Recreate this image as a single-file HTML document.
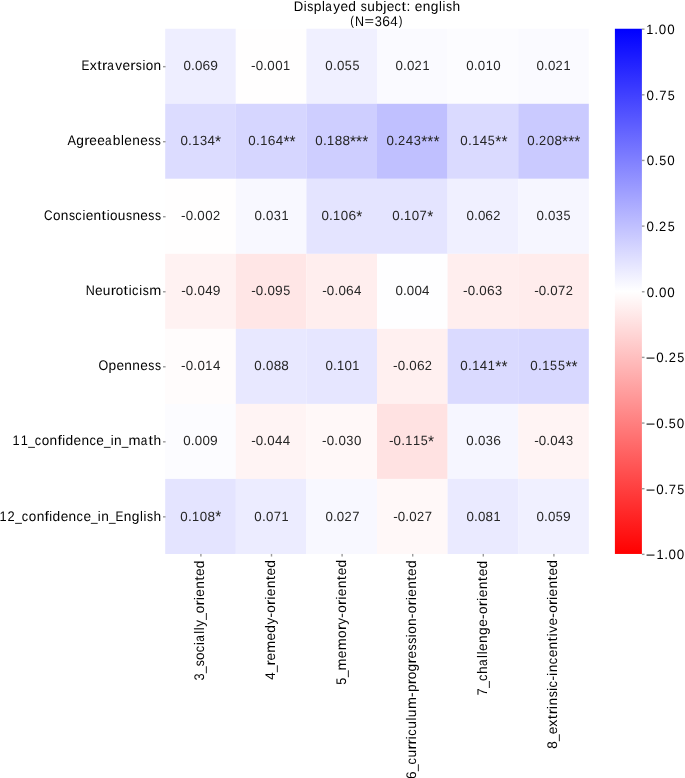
<!DOCTYPE html><html><head><meta charset="utf-8"><style>html,body{margin:0;padding:0;background:#fff;overflow:hidden}svg{display:block;will-change:transform}g text,text{font-family:"Liberation Sans",sans-serif;text-rendering:geometricPrecision}svg{font-size:13.9px}</style></head><body>
<svg width="685" height="778" viewBox="0 0 685 778">
<defs><linearGradient id="cb" x1="0" y1="0" x2="0" y2="1"><stop offset="0" stop-color="#0000ff"/><stop offset="0.5" stop-color="#ffffff"/><stop offset="1" stop-color="#ff0000"/></linearGradient></defs>
<rect width="685" height="778" fill="#fff"/>
<rect x="165.2" y="28.75" width="70.63" height="75.06" fill="#eeeeff"/><rect x="235.8" y="28.75" width="70.63" height="75.06" fill="#fffefe"/><rect x="306.4" y="28.75" width="70.63" height="75.06" fill="#f0f0ff"/><rect x="377" y="28.75" width="70.63" height="75.06" fill="#fafaff"/><rect x="447.6" y="28.75" width="70.63" height="75.06" fill="#fcfcff"/><rect x="518.2" y="28.75" width="70.63" height="75.06" fill="#fafaff"/><rect x="165.2" y="103.78" width="70.63" height="75.06" fill="#dcdcff"/><rect x="235.8" y="103.78" width="70.63" height="75.06" fill="#d6d6ff"/><rect x="306.4" y="103.78" width="70.63" height="75.06" fill="#ceceff"/><rect x="377" y="103.78" width="70.63" height="75.06" fill="#c0c0ff"/><rect x="447.6" y="103.78" width="70.63" height="75.06" fill="#dadaff"/><rect x="518.2" y="103.78" width="70.63" height="75.06" fill="#cacaff"/><rect x="165.2" y="178.81" width="70.63" height="75.06" fill="#fffefe"/><rect x="235.8" y="178.81" width="70.63" height="75.06" fill="#f8f8ff"/><rect x="306.4" y="178.81" width="70.63" height="75.06" fill="#e4e4ff"/><rect x="377" y="178.81" width="70.63" height="75.06" fill="#e4e4ff"/><rect x="447.6" y="178.81" width="70.63" height="75.06" fill="#f0f0ff"/><rect x="518.2" y="178.81" width="70.63" height="75.06" fill="#f6f6ff"/><rect x="165.2" y="253.84" width="70.63" height="75.06" fill="#fff2f2"/><rect x="235.8" y="253.84" width="70.63" height="75.06" fill="#ffe6e6"/><rect x="306.4" y="253.84" width="70.63" height="75.06" fill="#ffeeee"/><rect x="377" y="253.84" width="70.63" height="75.06" fill="#fefeff"/><rect x="447.6" y="253.84" width="70.63" height="75.06" fill="#ffeeee"/><rect x="518.2" y="253.84" width="70.63" height="75.06" fill="#ffecec"/><rect x="165.2" y="328.86" width="70.63" height="75.06" fill="#fffcfc"/><rect x="235.8" y="328.86" width="70.63" height="75.06" fill="#e8e8ff"/><rect x="306.4" y="328.86" width="70.63" height="75.06" fill="#e6e6ff"/><rect x="377" y="328.86" width="70.63" height="75.06" fill="#fff0f0"/><rect x="447.6" y="328.86" width="70.63" height="75.06" fill="#dadaff"/><rect x="518.2" y="328.86" width="70.63" height="75.06" fill="#d8d8ff"/><rect x="165.2" y="403.89" width="70.63" height="75.06" fill="#fcfcff"/><rect x="235.8" y="403.89" width="70.63" height="75.06" fill="#fff4f4"/><rect x="306.4" y="403.89" width="70.63" height="75.06" fill="#fff8f8"/><rect x="377" y="403.89" width="70.63" height="75.06" fill="#ffe2e2"/><rect x="447.6" y="403.89" width="70.63" height="75.06" fill="#f6f6ff"/><rect x="518.2" y="403.89" width="70.63" height="75.06" fill="#fff4f4"/><rect x="165.2" y="478.92" width="70.63" height="75.06" fill="#e4e4ff"/><rect x="235.8" y="478.92" width="70.63" height="75.06" fill="#ececff"/><rect x="306.4" y="478.92" width="70.63" height="75.06" fill="#f8f8ff"/><rect x="377" y="478.92" width="70.63" height="75.06" fill="#fff8f8"/><rect x="447.6" y="478.92" width="70.63" height="75.06" fill="#eaeaff"/><rect x="518.2" y="478.92" width="70.63" height="75.06" fill="#f0f0ff"/>
<rect x="614.9" y="28.75" width="27" height="525.2" fill="url(#cb)"/>
<g fill="#9a9a9a"><rect x="163" y="65.96" width="2.6" height="1.4"/><rect x="163" y="140.99" width="2.6" height="1.4"/><rect x="163" y="216.02" width="2.6" height="1.4"/><rect x="163" y="291.05" width="2.6" height="1.4"/><rect x="163" y="366.08" width="2.6" height="1.4"/><rect x="163" y="441.11" width="2.6" height="1.4"/><rect x="163" y="516.14" width="2.6" height="1.4"/><rect x="200.2" y="553.95" width="1.4" height="2.6"/><rect x="270.8" y="553.95" width="1.4" height="2.6"/><rect x="341.4" y="553.95" width="1.4" height="2.6"/><rect x="412" y="553.95" width="1.4" height="2.6"/><rect x="482.6" y="553.95" width="1.4" height="2.6"/><rect x="553.2" y="553.95" width="1.4" height="2.6"/><rect x="641.9" y="28.45" width="2.6" height="1.4"/><rect x="641.9" y="94.1" width="2.6" height="1.4"/><rect x="641.9" y="159.75" width="2.6" height="1.4"/><rect x="641.9" y="225.4" width="2.6" height="1.4"/><rect x="641.9" y="291.05" width="2.6" height="1.4"/><rect x="641.9" y="356.7" width="2.6" height="1.4"/><rect x="641.9" y="422.35" width="2.6" height="1.4"/><rect x="641.9" y="488" width="2.6" height="1.4"/><rect x="641.9" y="553.65" width="2.6" height="1.4"/></g>
<text y="69.95" fill="#000"><tspan x="81.58" textLength="7.881" lengthAdjust="spacingAndGlyphs">E</tspan><tspan x="89.74" textLength="7.033" lengthAdjust="spacingAndGlyphs">x</tspan><tspan x="97.25" textLength="4.441" lengthAdjust="spacingAndGlyphs">t</tspan><tspan x="102.12" textLength="5.323" lengthAdjust="spacingAndGlyphs">r</tspan><tspan x="107.36" textLength="6.571" lengthAdjust="spacingAndGlyphs">a</tspan><tspan x="115.3" textLength="6.842" lengthAdjust="spacingAndGlyphs">v</tspan><tspan x="122.59" textLength="7.617" lengthAdjust="spacingAndGlyphs">e</tspan><tspan x="130.38" textLength="5.323" lengthAdjust="spacingAndGlyphs">r</tspan><tspan x="135.82" textLength="6.077" lengthAdjust="spacingAndGlyphs">s</tspan><tspan x="142.39" textLength="2.88" lengthAdjust="spacingAndGlyphs">i</tspan><tspan x="145.73" textLength="7.497" lengthAdjust="spacingAndGlyphs">o</tspan><tspan x="153.59" textLength="7.603" lengthAdjust="spacingAndGlyphs">n</tspan></text>
<text y="145.05" fill="#000"><tspan x="67.55" textLength="8.52" lengthAdjust="spacingAndGlyphs">A</tspan><tspan x="76.29" textLength="7.665" lengthAdjust="spacingAndGlyphs">g</tspan><tspan x="84.34" textLength="5.323" lengthAdjust="spacingAndGlyphs">r</tspan><tspan x="89.31" textLength="7.617" lengthAdjust="spacingAndGlyphs">e</tspan><tspan x="97.13" textLength="7.617" lengthAdjust="spacingAndGlyphs">e</tspan><tspan x="104.97" textLength="6.571" lengthAdjust="spacingAndGlyphs">a</tspan><tspan x="112.87" textLength="7.672" lengthAdjust="spacingAndGlyphs">b</tspan><tspan x="120.97" textLength="2.88" lengthAdjust="spacingAndGlyphs">l</tspan><tspan x="124.31" textLength="7.617" lengthAdjust="spacingAndGlyphs">e</tspan><tspan x="132.25" textLength="7.603" lengthAdjust="spacingAndGlyphs">n</tspan><tspan x="140.17" textLength="7.617" lengthAdjust="spacingAndGlyphs">e</tspan><tspan x="148.21" textLength="6.077" lengthAdjust="spacingAndGlyphs">s</tspan><tspan x="154.83" textLength="6.077" lengthAdjust="spacingAndGlyphs">s</tspan></text>
<text y="220.15" fill="#000"><tspan x="44.05" textLength="8.532" lengthAdjust="spacingAndGlyphs">C</tspan><tspan x="52.91" textLength="7.497" lengthAdjust="spacingAndGlyphs">o</tspan><tspan x="60.76" textLength="7.603" lengthAdjust="spacingAndGlyphs">n</tspan><tspan x="68.88" textLength="6.077" lengthAdjust="spacingAndGlyphs">s</tspan><tspan x="75.27" textLength="6.362" lengthAdjust="spacingAndGlyphs">c</tspan><tspan x="82.39" textLength="2.88" lengthAdjust="spacingAndGlyphs">i</tspan><tspan x="85.7" textLength="7.617" lengthAdjust="spacingAndGlyphs">e</tspan><tspan x="93.6" textLength="7.603" lengthAdjust="spacingAndGlyphs">n</tspan><tspan x="101.59" textLength="4.441" lengthAdjust="spacingAndGlyphs">t</tspan><tspan x="106.65" textLength="2.88" lengthAdjust="spacingAndGlyphs">i</tspan><tspan x="109.98" textLength="7.497" lengthAdjust="spacingAndGlyphs">o</tspan><tspan x="117.77" textLength="7.603" lengthAdjust="spacingAndGlyphs">u</tspan><tspan x="125.94" textLength="6.077" lengthAdjust="spacingAndGlyphs">s</tspan><tspan x="132.42" textLength="7.603" lengthAdjust="spacingAndGlyphs">n</tspan><tspan x="140.31" textLength="7.617" lengthAdjust="spacingAndGlyphs">e</tspan><tspan x="148.32" textLength="6.077" lengthAdjust="spacingAndGlyphs">s</tspan><tspan x="154.9" textLength="6.077" lengthAdjust="spacingAndGlyphs">s</tspan></text>
<text y="295.25" fill="#000"><tspan x="85.63" textLength="9.045" lengthAdjust="spacingAndGlyphs">N</tspan><tspan x="95" textLength="7.617" lengthAdjust="spacingAndGlyphs">e</tspan><tspan x="102.86" textLength="7.603" lengthAdjust="spacingAndGlyphs">u</tspan><tspan x="110.81" textLength="5.323" lengthAdjust="spacingAndGlyphs">r</tspan><tspan x="115.78" textLength="7.497" lengthAdjust="spacingAndGlyphs">o</tspan><tspan x="123.61" textLength="4.441" lengthAdjust="spacingAndGlyphs">t</tspan><tspan x="128.68" textLength="2.88" lengthAdjust="spacingAndGlyphs">i</tspan><tspan x="132.03" textLength="6.362" lengthAdjust="spacingAndGlyphs">c</tspan><tspan x="139.16" textLength="2.88" lengthAdjust="spacingAndGlyphs">i</tspan><tspan x="142.7" textLength="6.077" lengthAdjust="spacingAndGlyphs">s</tspan><tspan x="149.15" textLength="12.035" lengthAdjust="spacingAndGlyphs">m</tspan></text>
<text y="370.35" fill="#000"><tspan x="98.41" textLength="9.75" lengthAdjust="spacingAndGlyphs">O</tspan><tspan x="108.52" textLength="7.672" lengthAdjust="spacingAndGlyphs">p</tspan><tspan x="116.42" textLength="7.617" lengthAdjust="spacingAndGlyphs">e</tspan><tspan x="124.34" textLength="7.603" lengthAdjust="spacingAndGlyphs">n</tspan><tspan x="132.37" textLength="7.603" lengthAdjust="spacingAndGlyphs">n</tspan><tspan x="140.27" textLength="7.617" lengthAdjust="spacingAndGlyphs">e</tspan><tspan x="148.3" textLength="6.077" lengthAdjust="spacingAndGlyphs">s</tspan><tspan x="154.9" textLength="6.077" lengthAdjust="spacingAndGlyphs">s</tspan></text>
<text y="445.45" fill="#000"><tspan x="12.58" textLength="7.1" lengthAdjust="spacingAndGlyphs">1</tspan><tspan x="20.65" textLength="7.1" lengthAdjust="spacingAndGlyphs">1</tspan><tspan x="28.19" textLength="6.571" lengthAdjust="spacingAndGlyphs">_</tspan><tspan x="34.78" textLength="6.362" lengthAdjust="spacingAndGlyphs">c</tspan><tspan x="41.73" textLength="7.497" lengthAdjust="spacingAndGlyphs">o</tspan><tspan x="49.59" textLength="7.603" lengthAdjust="spacingAndGlyphs">n</tspan><tspan x="57.53" textLength="4.441" lengthAdjust="spacingAndGlyphs">f</tspan><tspan x="62.16" textLength="2.88" lengthAdjust="spacingAndGlyphs">i</tspan><tspan x="65.48" textLength="7.665" lengthAdjust="spacingAndGlyphs">d</tspan><tspan x="73.52" textLength="7.617" lengthAdjust="spacingAndGlyphs">e</tspan><tspan x="81.45" textLength="7.603" lengthAdjust="spacingAndGlyphs">n</tspan><tspan x="89.39" textLength="6.362" lengthAdjust="spacingAndGlyphs">c</tspan><tspan x="96.32" textLength="7.617" lengthAdjust="spacingAndGlyphs">e</tspan><tspan x="103.9" textLength="6.571" lengthAdjust="spacingAndGlyphs">_</tspan><tspan x="110.66" textLength="2.88" lengthAdjust="spacingAndGlyphs">i</tspan><tspan x="114.1" textLength="7.603" lengthAdjust="spacingAndGlyphs">n</tspan><tspan x="121.79" textLength="6.571" lengthAdjust="spacingAndGlyphs">_</tspan><tspan x="128.43" textLength="12.035" lengthAdjust="spacingAndGlyphs">m</tspan><tspan x="140.72" textLength="6.571" lengthAdjust="spacingAndGlyphs">a</tspan><tspan x="148.55" textLength="4.441" lengthAdjust="spacingAndGlyphs">t</tspan><tspan x="153.5" textLength="7.656" lengthAdjust="spacingAndGlyphs">h</tspan></text>
<text y="520.55" fill="#000"><tspan x="-0.46" textLength="7.1" lengthAdjust="spacingAndGlyphs">1</tspan><tspan x="7.49" textLength="7.165" lengthAdjust="spacingAndGlyphs">2</tspan><tspan x="15.19" textLength="6.571" lengthAdjust="spacingAndGlyphs">_</tspan><tspan x="21.8" textLength="6.362" lengthAdjust="spacingAndGlyphs">c</tspan><tspan x="28.76" textLength="7.497" lengthAdjust="spacingAndGlyphs">o</tspan><tspan x="36.64" textLength="7.603" lengthAdjust="spacingAndGlyphs">n</tspan><tspan x="44.59" textLength="4.441" lengthAdjust="spacingAndGlyphs">f</tspan><tspan x="49.24" textLength="2.88" lengthAdjust="spacingAndGlyphs">i</tspan><tspan x="52.57" textLength="7.665" lengthAdjust="spacingAndGlyphs">d</tspan><tspan x="60.64" textLength="7.617" lengthAdjust="spacingAndGlyphs">e</tspan><tspan x="68.58" textLength="7.603" lengthAdjust="spacingAndGlyphs">n</tspan><tspan x="76.54" textLength="6.362" lengthAdjust="spacingAndGlyphs">c</tspan><tspan x="83.49" textLength="7.617" lengthAdjust="spacingAndGlyphs">e</tspan><tspan x="91.09" textLength="6.571" lengthAdjust="spacingAndGlyphs">_</tspan><tspan x="97.85" textLength="2.88" lengthAdjust="spacingAndGlyphs">i</tspan><tspan x="101.31" textLength="7.603" lengthAdjust="spacingAndGlyphs">n</tspan><tspan x="109.02" textLength="6.571" lengthAdjust="spacingAndGlyphs">_</tspan><tspan x="115.53" textLength="7.881" lengthAdjust="spacingAndGlyphs">E</tspan><tspan x="123.75" textLength="7.603" lengthAdjust="spacingAndGlyphs">n</tspan><tspan x="131.67" textLength="7.665" lengthAdjust="spacingAndGlyphs">g</tspan><tspan x="139.93" textLength="2.88" lengthAdjust="spacingAndGlyphs">l</tspan><tspan x="143.46" textLength="2.88" lengthAdjust="spacingAndGlyphs">i</tspan><tspan x="147.02" textLength="6.077" lengthAdjust="spacingAndGlyphs">s</tspan><tspan x="153.49" textLength="7.656" lengthAdjust="spacingAndGlyphs">h</tspan></text>
<text transform="translate(204.31 0) rotate(-90)" y="0" fill="#000"><tspan x="-680.51" textLength="7.139" lengthAdjust="spacingAndGlyphs">3</tspan><tspan x="-673.04" textLength="6.571" lengthAdjust="spacingAndGlyphs">_</tspan><tspan x="-666.28" textLength="6.077" lengthAdjust="spacingAndGlyphs">s</tspan><tspan x="-659.91" textLength="7.497" lengthAdjust="spacingAndGlyphs">o</tspan><tspan x="-652.16" textLength="6.362" lengthAdjust="spacingAndGlyphs">c</tspan><tspan x="-645.04" textLength="2.88" lengthAdjust="spacingAndGlyphs">i</tspan><tspan x="-641.7" textLength="6.571" lengthAdjust="spacingAndGlyphs">a</tspan><tspan x="-633.79" textLength="2.88" lengthAdjust="spacingAndGlyphs">l</tspan><tspan x="-630.28" textLength="2.88" lengthAdjust="spacingAndGlyphs">l</tspan><tspan x="-626.75" textLength="6.808" lengthAdjust="spacingAndGlyphs">y</tspan><tspan x="-619.71" textLength="6.571" lengthAdjust="spacingAndGlyphs">_</tspan><tspan x="-613.16" textLength="7.497" lengthAdjust="spacingAndGlyphs">o</tspan><tspan x="-605.44" textLength="5.323" lengthAdjust="spacingAndGlyphs">r</tspan><tspan x="-600.04" textLength="2.88" lengthAdjust="spacingAndGlyphs">i</tspan><tspan x="-596.74" textLength="7.617" lengthAdjust="spacingAndGlyphs">e</tspan><tspan x="-588.84" textLength="7.603" lengthAdjust="spacingAndGlyphs">n</tspan><tspan x="-580.86" textLength="4.441" lengthAdjust="spacingAndGlyphs">t</tspan><tspan x="-576" textLength="7.617" lengthAdjust="spacingAndGlyphs">e</tspan><tspan x="-568.23" textLength="7.665" lengthAdjust="spacingAndGlyphs">d</tspan></text>
<text transform="translate(274.91 0) rotate(-90)" y="0" fill="#000"><tspan x="-679.65" textLength="7.435" lengthAdjust="spacingAndGlyphs">4</tspan><tspan x="-672.02" textLength="6.571" lengthAdjust="spacingAndGlyphs">_</tspan><tspan x="-665.49" textLength="5.323" lengthAdjust="spacingAndGlyphs">r</tspan><tspan x="-660.55" textLength="7.617" lengthAdjust="spacingAndGlyphs">e</tspan><tspan x="-652.71" textLength="12.035" lengthAdjust="spacingAndGlyphs">m</tspan><tspan x="-640.48" textLength="7.617" lengthAdjust="spacingAndGlyphs">e</tspan><tspan x="-632.71" textLength="7.665" lengthAdjust="spacingAndGlyphs">d</tspan><tspan x="-624.46" textLength="6.808" lengthAdjust="spacingAndGlyphs">y</tspan><tspan x="-617.57" textLength="4.552" lengthAdjust="spacingAndGlyphs">-</tspan><tspan x="-612.64" textLength="7.497" lengthAdjust="spacingAndGlyphs">o</tspan><tspan x="-604.93" textLength="5.323" lengthAdjust="spacingAndGlyphs">r</tspan><tspan x="-599.53" textLength="2.88" lengthAdjust="spacingAndGlyphs">i</tspan><tspan x="-596.23" textLength="7.617" lengthAdjust="spacingAndGlyphs">e</tspan><tspan x="-588.33" textLength="7.603" lengthAdjust="spacingAndGlyphs">n</tspan><tspan x="-580.35" textLength="4.441" lengthAdjust="spacingAndGlyphs">t</tspan><tspan x="-575.5" textLength="7.617" lengthAdjust="spacingAndGlyphs">e</tspan><tspan x="-567.73" textLength="7.665" lengthAdjust="spacingAndGlyphs">d</tspan></text>
<text transform="translate(345.51 0) rotate(-90)" y="0" fill="#000"><tspan x="-684.63" textLength="7.016" lengthAdjust="spacingAndGlyphs">5</tspan><tspan x="-677.11" textLength="6.571" lengthAdjust="spacingAndGlyphs">_</tspan><tspan x="-670.44" textLength="12.035" lengthAdjust="spacingAndGlyphs">m</tspan><tspan x="-658.14" textLength="7.617" lengthAdjust="spacingAndGlyphs">e</tspan><tspan x="-650.22" textLength="12.035" lengthAdjust="spacingAndGlyphs">m</tspan><tspan x="-637.9" textLength="7.497" lengthAdjust="spacingAndGlyphs">o</tspan><tspan x="-630.14" textLength="5.323" lengthAdjust="spacingAndGlyphs">r</tspan><tspan x="-624.68" textLength="6.808" lengthAdjust="spacingAndGlyphs">y</tspan><tspan x="-617.75" textLength="4.552" lengthAdjust="spacingAndGlyphs">-</tspan><tspan x="-612.77" textLength="7.497" lengthAdjust="spacingAndGlyphs">o</tspan><tspan x="-605" textLength="5.323" lengthAdjust="spacingAndGlyphs">r</tspan><tspan x="-599.58" textLength="2.88" lengthAdjust="spacingAndGlyphs">i</tspan><tspan x="-596.24" textLength="7.617" lengthAdjust="spacingAndGlyphs">e</tspan><tspan x="-588.29" textLength="7.603" lengthAdjust="spacingAndGlyphs">n</tspan><tspan x="-580.26" textLength="4.441" lengthAdjust="spacingAndGlyphs">t</tspan><tspan x="-575.36" textLength="7.617" lengthAdjust="spacingAndGlyphs">e</tspan><tspan x="-567.53" textLength="7.665" lengthAdjust="spacingAndGlyphs">d</tspan></text>
<text transform="translate(416.11 0) rotate(-90)" y="0" fill="#000"><tspan x="-778.91">6</tspan><tspan x="-771.11" textLength="6.571" lengthAdjust="spacingAndGlyphs">_</tspan><tspan x="-764.51" textLength="6.362" lengthAdjust="spacingAndGlyphs">c</tspan><tspan x="-757.5" textLength="7.603" lengthAdjust="spacingAndGlyphs">u</tspan><tspan x="-749.52" textLength="5.323" lengthAdjust="spacingAndGlyphs">r</tspan><tspan x="-744.56" textLength="5.323" lengthAdjust="spacingAndGlyphs">r</tspan><tspan x="-739.14" textLength="2.88" lengthAdjust="spacingAndGlyphs">i</tspan><tspan x="-735.77" textLength="6.362" lengthAdjust="spacingAndGlyphs">c</tspan><tspan x="-728.76" textLength="7.603" lengthAdjust="spacingAndGlyphs">u</tspan><tspan x="-720.59" textLength="2.88" lengthAdjust="spacingAndGlyphs">l</tspan><tspan x="-717.19" textLength="7.603" lengthAdjust="spacingAndGlyphs">u</tspan><tspan x="-709.13" textLength="12.035" lengthAdjust="spacingAndGlyphs">m</tspan><tspan x="-696.96" textLength="4.552" lengthAdjust="spacingAndGlyphs">-</tspan><tspan x="-692.12" textLength="7.672" lengthAdjust="spacingAndGlyphs">p</tspan><tspan x="-684.21" textLength="5.323" lengthAdjust="spacingAndGlyphs">r</tspan><tspan x="-679.23" textLength="7.497" lengthAdjust="spacingAndGlyphs">o</tspan><tspan x="-671.47" textLength="7.665" lengthAdjust="spacingAndGlyphs">g</tspan><tspan x="-663.42" textLength="5.323" lengthAdjust="spacingAndGlyphs">r</tspan><tspan x="-658.45" textLength="7.617" lengthAdjust="spacingAndGlyphs">e</tspan><tspan x="-650.41" textLength="6.077" lengthAdjust="spacingAndGlyphs">s</tspan><tspan x="-643.8" textLength="6.077" lengthAdjust="spacingAndGlyphs">s</tspan><tspan x="-637.22" textLength="2.88" lengthAdjust="spacingAndGlyphs">i</tspan><tspan x="-633.87" textLength="7.497" lengthAdjust="spacingAndGlyphs">o</tspan><tspan x="-625.99" textLength="7.603" lengthAdjust="spacingAndGlyphs">n</tspan><tspan x="-618.19" textLength="4.552" lengthAdjust="spacingAndGlyphs">-</tspan><tspan x="-613.23" textLength="7.497" lengthAdjust="spacingAndGlyphs">o</tspan><tspan x="-605.48" textLength="5.323" lengthAdjust="spacingAndGlyphs">r</tspan><tspan x="-600.06" textLength="2.88" lengthAdjust="spacingAndGlyphs">i</tspan><tspan x="-596.73" textLength="7.617" lengthAdjust="spacingAndGlyphs">e</tspan><tspan x="-588.8" textLength="7.603" lengthAdjust="spacingAndGlyphs">n</tspan><tspan x="-580.78" textLength="4.441" lengthAdjust="spacingAndGlyphs">t</tspan><tspan x="-575.9" textLength="7.617" lengthAdjust="spacingAndGlyphs">e</tspan><tspan x="-568.09" textLength="7.665" lengthAdjust="spacingAndGlyphs">d</tspan></text>
<text transform="translate(486.71 0) rotate(-90)" y="0" fill="#000"><tspan x="-695.41" textLength="7.272" lengthAdjust="spacingAndGlyphs">7</tspan><tspan x="-687.72" textLength="6.571" lengthAdjust="spacingAndGlyphs">_</tspan><tspan x="-681.06" textLength="6.362" lengthAdjust="spacingAndGlyphs">c</tspan><tspan x="-673.96" textLength="7.656" lengthAdjust="spacingAndGlyphs">h</tspan><tspan x="-665.88" textLength="6.571" lengthAdjust="spacingAndGlyphs">a</tspan><tspan x="-657.89" textLength="2.88" lengthAdjust="spacingAndGlyphs">l</tspan><tspan x="-654.32" textLength="2.88" lengthAdjust="spacingAndGlyphs">l</tspan><tspan x="-650.93" textLength="7.617" lengthAdjust="spacingAndGlyphs">e</tspan><tspan x="-642.91" textLength="7.603" lengthAdjust="spacingAndGlyphs">n</tspan><tspan x="-634.91" textLength="7.665" lengthAdjust="spacingAndGlyphs">g</tspan><tspan x="-626.78" textLength="7.617" lengthAdjust="spacingAndGlyphs">e</tspan><tspan x="-619.02" textLength="4.552" lengthAdjust="spacingAndGlyphs">-</tspan><tspan x="-613.99" textLength="7.497" lengthAdjust="spacingAndGlyphs">o</tspan><tspan x="-606.17" textLength="5.323" lengthAdjust="spacingAndGlyphs">r</tspan><tspan x="-600.71" textLength="2.88" lengthAdjust="spacingAndGlyphs">i</tspan><tspan x="-597.33" textLength="7.617" lengthAdjust="spacingAndGlyphs">e</tspan><tspan x="-589.31" textLength="7.603" lengthAdjust="spacingAndGlyphs">n</tspan><tspan x="-581.23" textLength="4.441" lengthAdjust="spacingAndGlyphs">t</tspan><tspan x="-576.28" textLength="7.617" lengthAdjust="spacingAndGlyphs">e</tspan><tspan x="-568.39" textLength="7.665" lengthAdjust="spacingAndGlyphs">d</tspan></text>
<text transform="translate(557.31 0) rotate(-90)" y="0" fill="#000"><tspan x="-748.63" textLength="7.514" lengthAdjust="spacingAndGlyphs">8</tspan><tspan x="-740.93" textLength="6.571" lengthAdjust="spacingAndGlyphs">_</tspan><tspan x="-734.37" textLength="7.617" lengthAdjust="spacingAndGlyphs">e</tspan><tspan x="-726.73" textLength="7.033" lengthAdjust="spacingAndGlyphs">x</tspan><tspan x="-719.22" textLength="4.441" lengthAdjust="spacingAndGlyphs">t</tspan><tspan x="-714.34" textLength="5.323" lengthAdjust="spacingAndGlyphs">r</tspan><tspan x="-708.93" textLength="2.88" lengthAdjust="spacingAndGlyphs">i</tspan><tspan x="-705.48" textLength="7.603" lengthAdjust="spacingAndGlyphs">n</tspan><tspan x="-697.34" textLength="6.077" lengthAdjust="spacingAndGlyphs">s</tspan><tspan x="-690.76" textLength="2.88" lengthAdjust="spacingAndGlyphs">i</tspan><tspan x="-687.4" textLength="6.362" lengthAdjust="spacingAndGlyphs">c</tspan><tspan x="-680.58" textLength="4.552" lengthAdjust="spacingAndGlyphs">-</tspan><tspan x="-675.69" textLength="2.88" lengthAdjust="spacingAndGlyphs">i</tspan><tspan x="-672.24" textLength="7.603" lengthAdjust="spacingAndGlyphs">n</tspan><tspan x="-664.29" textLength="6.362" lengthAdjust="spacingAndGlyphs">c</tspan><tspan x="-657.35" textLength="7.617" lengthAdjust="spacingAndGlyphs">e</tspan><tspan x="-649.42" textLength="7.603" lengthAdjust="spacingAndGlyphs">n</tspan><tspan x="-641.41" textLength="4.441" lengthAdjust="spacingAndGlyphs">t</tspan><tspan x="-636.34" textLength="2.88" lengthAdjust="spacingAndGlyphs">i</tspan><tspan x="-632.8" textLength="6.842" lengthAdjust="spacingAndGlyphs">v</tspan><tspan x="-625.51" textLength="7.617" lengthAdjust="spacingAndGlyphs">e</tspan><tspan x="-617.82" textLength="4.552" lengthAdjust="spacingAndGlyphs">-</tspan><tspan x="-612.86" textLength="7.497" lengthAdjust="spacingAndGlyphs">o</tspan><tspan x="-605.12" textLength="5.323" lengthAdjust="spacingAndGlyphs">r</tspan><tspan x="-599.7" textLength="2.88" lengthAdjust="spacingAndGlyphs">i</tspan><tspan x="-596.38" textLength="7.617" lengthAdjust="spacingAndGlyphs">e</tspan><tspan x="-588.45" textLength="7.603" lengthAdjust="spacingAndGlyphs">n</tspan><tspan x="-580.44" textLength="4.441" lengthAdjust="spacingAndGlyphs">t</tspan><tspan x="-575.56" textLength="7.617" lengthAdjust="spacingAndGlyphs">e</tspan><tspan x="-567.76" textLength="7.665" lengthAdjust="spacingAndGlyphs">d</tspan></text>
<text y="10.7" fill="#000"><tspan x="293.83" textLength="9.474" lengthAdjust="spacingAndGlyphs">D</tspan><tspan x="303.74" textLength="2.88" lengthAdjust="spacingAndGlyphs">i</tspan><tspan x="307.3" textLength="6.077" lengthAdjust="spacingAndGlyphs">s</tspan><tspan x="313.83" textLength="7.672" lengthAdjust="spacingAndGlyphs">p</tspan><tspan x="321.94" textLength="2.88" lengthAdjust="spacingAndGlyphs">l</tspan><tspan x="325.31" textLength="6.571" lengthAdjust="spacingAndGlyphs">a</tspan><tspan x="333.28" textLength="6.808" lengthAdjust="spacingAndGlyphs">y</tspan><tspan x="340.56" textLength="7.617" lengthAdjust="spacingAndGlyphs">e</tspan><tspan x="348.37" textLength="7.665" lengthAdjust="spacingAndGlyphs">d</tspan> <tspan x="360.69" textLength="6.077" lengthAdjust="spacingAndGlyphs">s</tspan><tspan x="367.15" textLength="7.603" lengthAdjust="spacingAndGlyphs">u</tspan><tspan x="375.27" textLength="7.672" lengthAdjust="spacingAndGlyphs">b</tspan><tspan x="383.17" textLength="3.178" lengthAdjust="spacingAndGlyphs">j</tspan><tspan x="386.71" textLength="7.617" lengthAdjust="spacingAndGlyphs">e</tspan><tspan x="394.56" textLength="6.362" lengthAdjust="spacingAndGlyphs">c</tspan><tspan x="401.59" textLength="4.441" lengthAdjust="spacingAndGlyphs">t</tspan><tspan x="406.58" textLength="3.812" lengthAdjust="spacingAndGlyphs">:</tspan> <tspan x="414.78" textLength="7.617" lengthAdjust="spacingAndGlyphs">e</tspan><tspan x="422.72" textLength="7.603" lengthAdjust="spacingAndGlyphs">n</tspan><tspan x="430.64" textLength="7.665" lengthAdjust="spacingAndGlyphs">g</tspan><tspan x="438.89" textLength="2.88" lengthAdjust="spacingAndGlyphs">l</tspan><tspan x="442.42" textLength="2.88" lengthAdjust="spacingAndGlyphs">i</tspan><tspan x="445.98" textLength="6.077" lengthAdjust="spacingAndGlyphs">s</tspan><tspan x="452.44" textLength="7.656" lengthAdjust="spacingAndGlyphs">h</tspan></text>
<text y="25.65" fill="#000"><tspan x="350.36" y="24.77" textLength="3.703" lengthAdjust="spacingAndGlyphs" font-size="12.728">(</tspan><tspan x="354.98" y="25.65" textLength="9.045" lengthAdjust="spacingAndGlyphs">N</tspan><tspan x="364.52" y="25.32" textLength="9.541" lengthAdjust="spacingAndGlyphs" font-size="11.66">=</tspan><tspan x="374.82" y="25.65" textLength="7.139" lengthAdjust="spacingAndGlyphs">3</tspan><tspan x="382.37" y="25.65">6</tspan><tspan x="390.34" y="25.65" textLength="7.435" lengthAdjust="spacingAndGlyphs">4</tspan><tspan x="398.81" y="24.77" textLength="3.703" lengthAdjust="spacingAndGlyphs" font-size="12.728">)</tspan></text>
<text y="559.25" fill="#000" font-size="13.5"><tspan x="645.69" y="560.18" textLength="9.541" lengthAdjust="spacingAndGlyphs" font-size="14.764">−</tspan><tspan x="656.39" y="559.25" textLength="7.1" lengthAdjust="spacingAndGlyphs">1</tspan><tspan x="664.24" y="559.25" textLength="3.812" lengthAdjust="spacingAndGlyphs">.</tspan><tspan x="668.62" y="559.25" textLength="7.434" lengthAdjust="spacingAndGlyphs">0</tspan><tspan x="676.85" y="559.25" textLength="7.434" lengthAdjust="spacingAndGlyphs">0</tspan></text>
<text y="493.6" fill="#000" font-size="13.5"><tspan x="645.66" y="494.53" textLength="9.541" lengthAdjust="spacingAndGlyphs" font-size="14.764">−</tspan><tspan x="656.32" y="493.6" textLength="7.434" lengthAdjust="spacingAndGlyphs">0</tspan><tspan x="664.33" y="493.6" textLength="3.812" lengthAdjust="spacingAndGlyphs">.</tspan><tspan x="668.8" y="493.6" textLength="7.272" lengthAdjust="spacingAndGlyphs">7</tspan><tspan x="677.19" y="493.6" textLength="7.016" lengthAdjust="spacingAndGlyphs">5</tspan></text>
<text y="427.95" fill="#000" font-size="13.5"><tspan x="645.74" y="428.88" textLength="9.541" lengthAdjust="spacingAndGlyphs" font-size="14.764">−</tspan><tspan x="656.29" y="427.95" textLength="7.434" lengthAdjust="spacingAndGlyphs">0</tspan><tspan x="664.23" y="427.95" textLength="3.812" lengthAdjust="spacingAndGlyphs">.</tspan><tspan x="668.74" y="427.95" textLength="7.016" lengthAdjust="spacingAndGlyphs">5</tspan><tspan x="676.78" y="427.95" textLength="7.434" lengthAdjust="spacingAndGlyphs">0</tspan></text>
<text y="362.3" fill="#000" font-size="13.5"><tspan x="645.65" y="363.23" textLength="9.541" lengthAdjust="spacingAndGlyphs" font-size="14.764">−</tspan><tspan x="656.31" y="362.3" textLength="7.434" lengthAdjust="spacingAndGlyphs">0</tspan><tspan x="664.34" y="362.3" textLength="3.812" lengthAdjust="spacingAndGlyphs">.</tspan><tspan x="668.72" y="362.3" textLength="7.165" lengthAdjust="spacingAndGlyphs">2</tspan><tspan x="677.22" y="362.3" textLength="7.016" lengthAdjust="spacingAndGlyphs">5</tspan></text>
<text y="296.65" fill="#000" font-size="13.5"><tspan x="646.69" textLength="7.434" lengthAdjust="spacingAndGlyphs">0</tspan><tspan x="654.63" textLength="3.812" lengthAdjust="spacingAndGlyphs">.</tspan><tspan x="658.97" textLength="7.434" lengthAdjust="spacingAndGlyphs">0</tspan><tspan x="667.15" textLength="7.434" lengthAdjust="spacingAndGlyphs">0</tspan></text>
<text y="231" fill="#000" font-size="13.5"><tspan x="646.58" textLength="7.434" lengthAdjust="spacingAndGlyphs">0</tspan><tspan x="654.65" textLength="3.812" lengthAdjust="spacingAndGlyphs">.</tspan><tspan x="659.08" textLength="7.165" lengthAdjust="spacingAndGlyphs">2</tspan><tspan x="667.64" textLength="7.016" lengthAdjust="spacingAndGlyphs">5</tspan></text>
<text y="165.35" fill="#000" font-size="13.5"><tspan x="646.69" textLength="7.434" lengthAdjust="spacingAndGlyphs">0</tspan><tspan x="654.63" textLength="3.812" lengthAdjust="spacingAndGlyphs">.</tspan><tspan x="659.13" textLength="7.016" lengthAdjust="spacingAndGlyphs">5</tspan><tspan x="667.15" textLength="7.434" lengthAdjust="spacingAndGlyphs">0</tspan></text>
<text y="99.7" fill="#000" font-size="13.5"><tspan x="646.58" textLength="7.434" lengthAdjust="spacingAndGlyphs">0</tspan><tspan x="654.65" textLength="3.812" lengthAdjust="spacingAndGlyphs">.</tspan><tspan x="659.18" textLength="7.272" lengthAdjust="spacingAndGlyphs">7</tspan><tspan x="667.64" textLength="7.016" lengthAdjust="spacingAndGlyphs">5</tspan></text>
<text y="34.05" fill="#000" font-size="13.5"><tspan x="646.3" textLength="7.1" lengthAdjust="spacingAndGlyphs">1</tspan><tspan x="654.28" textLength="3.812" lengthAdjust="spacingAndGlyphs">.</tspan><tspan x="658.78" textLength="7.434" lengthAdjust="spacingAndGlyphs">0</tspan><tspan x="667.18" textLength="7.434" lengthAdjust="spacingAndGlyphs">0</tspan></text>
<text y="69.95" fill="#262626" font-size="13.3"><tspan x="183.45">0</tspan><tspan x="191.02" textLength="3.812" lengthAdjust="spacingAndGlyphs">.</tspan><tspan x="194.98">0</tspan><tspan x="202.54" textLength="7.694" lengthAdjust="spacingAndGlyphs">6</tspan><tspan x="210.21" textLength="7.678" lengthAdjust="spacingAndGlyphs">9</tspan></text>
<text y="69.95" fill="#262626" font-size="13.3"><tspan x="251.02" textLength="4.552" lengthAdjust="spacingAndGlyphs">-</tspan><tspan x="255.69">0</tspan><tspan x="263.33" textLength="3.812" lengthAdjust="spacingAndGlyphs">.</tspan><tspan x="267.37">0</tspan><tspan x="275.17">0</tspan><tspan x="283.06" textLength="7.1" lengthAdjust="spacingAndGlyphs">1</tspan></text>
<text y="69.95" fill="#262626" font-size="13.3"><tspan x="325.37">0</tspan><tspan x="332.94" textLength="3.812" lengthAdjust="spacingAndGlyphs">.</tspan><tspan x="336.91">0</tspan><tspan x="344.77" textLength="7.016" lengthAdjust="spacingAndGlyphs">5</tspan><tspan x="352.46" textLength="7.016" lengthAdjust="spacingAndGlyphs">5</tspan></text>
<text y="69.95" fill="#262626" font-size="13.3"><tspan x="395.43">0</tspan><tspan x="402.99" textLength="3.812" lengthAdjust="spacingAndGlyphs">.</tspan><tspan x="406.95">0</tspan><tspan x="414.6" textLength="7.165" lengthAdjust="spacingAndGlyphs">2</tspan><tspan x="422.41" textLength="7.1" lengthAdjust="spacingAndGlyphs">1</tspan></text>
<text y="69.95" fill="#262626" font-size="13.3"><tspan x="466.3">0</tspan><tspan x="473.87" textLength="3.812" lengthAdjust="spacingAndGlyphs">.</tspan><tspan x="477.85">0</tspan><tspan x="485.65" textLength="7.1" lengthAdjust="spacingAndGlyphs">1</tspan><tspan x="493.24">0</tspan></text>
<text y="69.95" fill="#262626" font-size="13.3"><tspan x="536.43">0</tspan><tspan x="543.99" textLength="3.812" lengthAdjust="spacingAndGlyphs">.</tspan><tspan x="547.94">0</tspan><tspan x="555.59" textLength="7.165" lengthAdjust="spacingAndGlyphs">2</tspan><tspan x="563.39" textLength="7.1" lengthAdjust="spacingAndGlyphs">1</tspan></text>
<text y="145.05" fill="#262626" font-size="13.3"><tspan x="180.4" y="145.05">0</tspan><tspan x="188.01" y="145.05" textLength="3.812" lengthAdjust="spacingAndGlyphs">.</tspan><tspan x="192.13" y="145.05" textLength="7.1" lengthAdjust="spacingAndGlyphs">1</tspan><tspan x="199.94" y="145.05" textLength="7.139" lengthAdjust="spacingAndGlyphs">3</tspan><tspan x="207.53" y="145.05" textLength="7.435" lengthAdjust="spacingAndGlyphs">4</tspan><tspan x="215.12" y="146.97" textLength="6.081" lengthAdjust="spacingAndGlyphs" font-size="16.472">*</tspan></text>
<text y="145.05" fill="#262626" font-size="13.3"><tspan x="248.32" y="145.05">0</tspan><tspan x="255.99" y="145.05" textLength="3.812" lengthAdjust="spacingAndGlyphs">.</tspan><tspan x="260.18" y="145.05" textLength="7.1" lengthAdjust="spacingAndGlyphs">1</tspan><tspan x="267.78" y="145.05" textLength="7.694" lengthAdjust="spacingAndGlyphs">6</tspan><tspan x="275.75" y="145.05" textLength="7.435" lengthAdjust="spacingAndGlyphs">4</tspan><tspan x="283.42" y="146.97" textLength="6.081" lengthAdjust="spacingAndGlyphs" font-size="16.472">*</tspan><tspan x="289.58" y="146.97" textLength="6.081" lengthAdjust="spacingAndGlyphs" font-size="16.472">*</tspan></text>
<text y="145.05" fill="#262626" font-size="13.3"><tspan x="315.37" y="145.05">0</tspan><tspan x="322.97" y="145.05" textLength="3.812" lengthAdjust="spacingAndGlyphs">.</tspan><tspan x="327.07" y="145.05" textLength="7.1" lengthAdjust="spacingAndGlyphs">1</tspan><tspan x="334.66" y="145.05" textLength="7.514" lengthAdjust="spacingAndGlyphs">8</tspan><tspan x="342.4" y="145.05" textLength="7.514" lengthAdjust="spacingAndGlyphs">8</tspan><tspan x="350.02" y="146.97" textLength="6.081" lengthAdjust="spacingAndGlyphs" font-size="16.472">*</tspan><tspan x="356.1" y="146.97" textLength="6.081" lengthAdjust="spacingAndGlyphs" font-size="16.472">*</tspan><tspan x="362.18" y="146.97" textLength="6.081" lengthAdjust="spacingAndGlyphs" font-size="16.472">*</tspan></text>
<text y="145.05" fill="#262626" font-size="13.3"><tspan x="386.39" y="145.05">0</tspan><tspan x="394.01" y="145.05" textLength="3.812" lengthAdjust="spacingAndGlyphs">.</tspan><tspan x="398.01" y="145.05" textLength="7.165" lengthAdjust="spacingAndGlyphs">2</tspan><tspan x="405.8" y="145.05" textLength="7.435" lengthAdjust="spacingAndGlyphs">4</tspan><tspan x="413.73" y="145.05" textLength="7.139" lengthAdjust="spacingAndGlyphs">3</tspan><tspan x="421.17" y="146.97" textLength="6.081" lengthAdjust="spacingAndGlyphs" font-size="16.472">*</tspan><tspan x="427.28" y="146.97" textLength="6.081" lengthAdjust="spacingAndGlyphs" font-size="16.472">*</tspan><tspan x="433.38" y="146.97" textLength="6.081" lengthAdjust="spacingAndGlyphs" font-size="16.472">*</tspan></text>
<text y="145.05" fill="#262626" font-size="13.3"><tspan x="460.3" y="145.05">0</tspan><tspan x="467.97" y="145.05" textLength="3.812" lengthAdjust="spacingAndGlyphs">.</tspan><tspan x="472.15" y="145.05" textLength="7.1" lengthAdjust="spacingAndGlyphs">1</tspan><tspan x="479.87" y="145.05" textLength="7.435" lengthAdjust="spacingAndGlyphs">4</tspan><tspan x="487.86" y="145.05" textLength="7.016" lengthAdjust="spacingAndGlyphs">5</tspan><tspan x="495.37" y="146.97" textLength="6.081" lengthAdjust="spacingAndGlyphs" font-size="16.472">*</tspan><tspan x="501.52" y="146.97" textLength="6.081" lengthAdjust="spacingAndGlyphs" font-size="16.472">*</tspan></text>
<text y="145.05" fill="#262626" font-size="13.3"><tspan x="527.34" y="145.05">0</tspan><tspan x="534.95" y="145.05" textLength="3.812" lengthAdjust="spacingAndGlyphs">.</tspan><tspan x="538.94" y="145.05" textLength="7.165" lengthAdjust="spacingAndGlyphs">2</tspan><tspan x="546.73" y="145.05">0</tspan><tspan x="554.44" y="145.05" textLength="7.514" lengthAdjust="spacingAndGlyphs">8</tspan><tspan x="562.08" y="146.97" textLength="6.081" lengthAdjust="spacingAndGlyphs" font-size="16.472">*</tspan><tspan x="568.18" y="146.97" textLength="6.081" lengthAdjust="spacingAndGlyphs" font-size="16.472">*</tspan><tspan x="574.28" y="146.97" textLength="6.081" lengthAdjust="spacingAndGlyphs" font-size="16.472">*</tspan></text>
<text y="220.15" fill="#262626" font-size="13.3"><tspan x="181.02" textLength="4.552" lengthAdjust="spacingAndGlyphs">-</tspan><tspan x="185.69">0</tspan><tspan x="193.33" textLength="3.812" lengthAdjust="spacingAndGlyphs">.</tspan><tspan x="197.37">0</tspan><tspan x="205.16">0</tspan><tspan x="212.92" textLength="7.165" lengthAdjust="spacingAndGlyphs">2</tspan></text>
<text y="220.15" fill="#262626" font-size="13.3"><tspan x="254.4">0</tspan><tspan x="261.97" textLength="3.812" lengthAdjust="spacingAndGlyphs">.</tspan><tspan x="265.93">0</tspan><tspan x="273.78" textLength="7.139" lengthAdjust="spacingAndGlyphs">3</tspan><tspan x="281.4" textLength="7.1" lengthAdjust="spacingAndGlyphs">1</tspan></text>
<text y="220.15" fill="#262626" font-size="13.3"><tspan x="321.38" y="220.15">0</tspan><tspan x="329" y="220.15" textLength="3.812" lengthAdjust="spacingAndGlyphs">.</tspan><tspan x="333.12" y="220.15" textLength="7.1" lengthAdjust="spacingAndGlyphs">1</tspan><tspan x="340.78" y="220.15">0</tspan><tspan x="348.4" y="220.15" textLength="7.694" lengthAdjust="spacingAndGlyphs">6</tspan><tspan x="356.14" y="222.07" textLength="6.081" lengthAdjust="spacingAndGlyphs" font-size="16.472">*</tspan></text>
<text y="220.15" fill="#262626" font-size="13.3"><tspan x="392.33" y="220.15">0</tspan><tspan x="399.96" y="220.15" textLength="3.812" lengthAdjust="spacingAndGlyphs">.</tspan><tspan x="404.1" y="220.15" textLength="7.1" lengthAdjust="spacingAndGlyphs">1</tspan><tspan x="411.77" y="220.15">0</tspan><tspan x="419.61" y="220.15" textLength="7.272" lengthAdjust="spacingAndGlyphs">7</tspan><tspan x="427.17" y="222.07" textLength="6.081" lengthAdjust="spacingAndGlyphs" font-size="16.472">*</tspan></text>
<text y="220.15" fill="#262626" font-size="13.3"><tspan x="466.42">0</tspan><tspan x="473.95" textLength="3.812" lengthAdjust="spacingAndGlyphs">.</tspan><tspan x="477.88">0</tspan><tspan x="485.39" textLength="7.694" lengthAdjust="spacingAndGlyphs">6</tspan><tspan x="493.13" textLength="7.165" lengthAdjust="spacingAndGlyphs">2</tspan></text>
<text y="220.15" fill="#262626" font-size="13.3"><tspan x="536.43">0</tspan><tspan x="544" textLength="3.812" lengthAdjust="spacingAndGlyphs">.</tspan><tspan x="547.96">0</tspan><tspan x="555.82" textLength="7.139" lengthAdjust="spacingAndGlyphs">3</tspan><tspan x="563.5" textLength="7.016" lengthAdjust="spacingAndGlyphs">5</tspan></text>
<text y="295.25" fill="#262626" font-size="13.3"><tspan x="181.18" textLength="4.552" lengthAdjust="spacingAndGlyphs">-</tspan><tspan x="185.82">0</tspan><tspan x="193.43" textLength="3.812" lengthAdjust="spacingAndGlyphs">.</tspan><tspan x="197.45">0</tspan><tspan x="205.2" textLength="7.435" lengthAdjust="spacingAndGlyphs">4</tspan><tspan x="212.8" textLength="7.678" lengthAdjust="spacingAndGlyphs">9</tspan></text>
<text y="295.25" fill="#262626" font-size="13.3"><tspan x="251.21" textLength="4.552" lengthAdjust="spacingAndGlyphs">-</tspan><tspan x="255.84">0</tspan><tspan x="263.46" textLength="3.812" lengthAdjust="spacingAndGlyphs">.</tspan><tspan x="267.47">0</tspan><tspan x="275.06" textLength="7.678" lengthAdjust="spacingAndGlyphs">9</tspan><tspan x="283.14" textLength="7.016" lengthAdjust="spacingAndGlyphs">5</tspan></text>
<text y="295.25" fill="#262626" font-size="13.3"><tspan x="322.19" textLength="4.552" lengthAdjust="spacingAndGlyphs">-</tspan><tspan x="326.82">0</tspan><tspan x="334.41" textLength="3.812" lengthAdjust="spacingAndGlyphs">.</tspan><tspan x="338.41">0</tspan><tspan x="346.01" textLength="7.694" lengthAdjust="spacingAndGlyphs">6</tspan><tspan x="353.88" textLength="7.435" lengthAdjust="spacingAndGlyphs">4</tspan></text>
<text y="295.25" fill="#262626" font-size="13.3"><tspan x="395.4">0</tspan><tspan x="402.93" textLength="3.812" lengthAdjust="spacingAndGlyphs">.</tspan><tspan x="406.86">0</tspan><tspan x="414.5">0</tspan><tspan x="422.14" textLength="7.435" lengthAdjust="spacingAndGlyphs">4</tspan></text>
<text y="295.25" fill="#262626" font-size="13.3"><tspan x="463.14" textLength="4.552" lengthAdjust="spacingAndGlyphs">-</tspan><tspan x="467.76">0</tspan><tspan x="475.34" textLength="3.812" lengthAdjust="spacingAndGlyphs">.</tspan><tspan x="479.33">0</tspan><tspan x="486.92" textLength="7.694" lengthAdjust="spacingAndGlyphs">6</tspan><tspan x="494.93" textLength="7.139" lengthAdjust="spacingAndGlyphs">3</tspan></text>
<text y="295.25" fill="#262626" font-size="13.3"><tspan x="534.2" textLength="4.552" lengthAdjust="spacingAndGlyphs">-</tspan><tspan x="538.79">0</tspan><tspan x="546.35" textLength="3.812" lengthAdjust="spacingAndGlyphs">.</tspan><tspan x="550.31">0</tspan><tspan x="558.06" textLength="7.272" lengthAdjust="spacingAndGlyphs">7</tspan><tspan x="565.66" textLength="7.165" lengthAdjust="spacingAndGlyphs">2</tspan></text>
<text y="370.35" fill="#262626" font-size="13.3"><tspan x="181.14" textLength="4.552" lengthAdjust="spacingAndGlyphs">-</tspan><tspan x="185.78">0</tspan><tspan x="193.39" textLength="3.812" lengthAdjust="spacingAndGlyphs">.</tspan><tspan x="197.4">0</tspan><tspan x="205.25" textLength="7.1" lengthAdjust="spacingAndGlyphs">1</tspan><tspan x="212.9" textLength="7.435" lengthAdjust="spacingAndGlyphs">4</tspan></text>
<text y="370.35" fill="#262626" font-size="13.3"><tspan x="254.33">0</tspan><tspan x="261.94" textLength="3.812" lengthAdjust="spacingAndGlyphs">.</tspan><tspan x="265.94">0</tspan><tspan x="273.65" textLength="7.514" lengthAdjust="spacingAndGlyphs">8</tspan><tspan x="281.39" textLength="7.514" lengthAdjust="spacingAndGlyphs">8</tspan></text>
<text y="370.35" fill="#262626" font-size="13.3"><tspan x="325.42">0</tspan><tspan x="332.97" textLength="3.812" lengthAdjust="spacingAndGlyphs">.</tspan><tspan x="337.03" textLength="7.1" lengthAdjust="spacingAndGlyphs">1</tspan><tspan x="344.6">0</tspan><tspan x="352.37" textLength="7.1" lengthAdjust="spacingAndGlyphs">1</tspan></text>
<text y="370.35" fill="#262626" font-size="13.3"><tspan x="392.99" textLength="4.552" lengthAdjust="spacingAndGlyphs">-</tspan><tspan x="397.65">0</tspan><tspan x="405.29" textLength="3.812" lengthAdjust="spacingAndGlyphs">.</tspan><tspan x="409.33">0</tspan><tspan x="416.98" textLength="7.694" lengthAdjust="spacingAndGlyphs">6</tspan><tspan x="424.87" textLength="7.165" lengthAdjust="spacingAndGlyphs">2</tspan></text>
<text y="370.35" fill="#262626" font-size="13.3"><tspan x="460.3" y="370.35">0</tspan><tspan x="467.97" y="370.35" textLength="3.812" lengthAdjust="spacingAndGlyphs">.</tspan><tspan x="472.15" y="370.35" textLength="7.1" lengthAdjust="spacingAndGlyphs">1</tspan><tspan x="479.87" y="370.35" textLength="7.435" lengthAdjust="spacingAndGlyphs">4</tspan><tspan x="487.81" y="370.35" textLength="7.1" lengthAdjust="spacingAndGlyphs">1</tspan><tspan x="495.37" y="372.27" textLength="6.081" lengthAdjust="spacingAndGlyphs" font-size="16.472">*</tspan><tspan x="501.52" y="372.27" textLength="6.081" lengthAdjust="spacingAndGlyphs" font-size="16.472">*</tspan></text>
<text y="370.35" fill="#262626" font-size="13.3"><tspan x="530.36" y="370.35">0</tspan><tspan x="538.02" y="370.35" textLength="3.812" lengthAdjust="spacingAndGlyphs">.</tspan><tspan x="542.19" y="370.35" textLength="7.1" lengthAdjust="spacingAndGlyphs">1</tspan><tspan x="550.07" y="370.35" textLength="7.016" lengthAdjust="spacingAndGlyphs">5</tspan><tspan x="557.9" y="370.35" textLength="7.016" lengthAdjust="spacingAndGlyphs">5</tspan><tspan x="565.39" y="372.27" textLength="6.081" lengthAdjust="spacingAndGlyphs" font-size="16.472">*</tspan><tspan x="571.54" y="372.27" textLength="6.081" lengthAdjust="spacingAndGlyphs" font-size="16.472">*</tspan></text>
<text y="445.45" fill="#262626" font-size="13.3"><tspan x="183.29">0</tspan><tspan x="190.86" textLength="3.812" lengthAdjust="spacingAndGlyphs">.</tspan><tspan x="194.83">0</tspan><tspan x="202.53">0</tspan><tspan x="210.06" textLength="7.678" lengthAdjust="spacingAndGlyphs">9</tspan></text>
<text y="445.45" fill="#262626" font-size="13.3"><tspan x="251.15" textLength="4.552" lengthAdjust="spacingAndGlyphs">-</tspan><tspan x="255.77">0</tspan><tspan x="263.36" textLength="3.812" lengthAdjust="spacingAndGlyphs">.</tspan><tspan x="267.36">0</tspan><tspan x="275.08" textLength="7.435" lengthAdjust="spacingAndGlyphs">4</tspan><tspan x="282.81" textLength="7.435" lengthAdjust="spacingAndGlyphs">4</tspan></text>
<text y="445.45" fill="#262626" font-size="13.3"><tspan x="321.97" textLength="4.552" lengthAdjust="spacingAndGlyphs">-</tspan><tspan x="326.66">0</tspan><tspan x="334.32" textLength="3.812" lengthAdjust="spacingAndGlyphs">.</tspan><tspan x="338.38">0</tspan><tspan x="346.36" textLength="7.139" lengthAdjust="spacingAndGlyphs">3</tspan><tspan x="354.01">0</tspan></text>
<text y="445.45" fill="#262626" font-size="13.3"><tspan x="389.01" y="445.45" textLength="4.552" lengthAdjust="spacingAndGlyphs">-</tspan><tspan x="393.6" y="445.45">0</tspan><tspan x="401.17" y="445.45" textLength="3.812" lengthAdjust="spacingAndGlyphs">.</tspan><tspan x="405.24" y="445.45" textLength="7.1" lengthAdjust="spacingAndGlyphs">1</tspan><tspan x="412.93" y="445.45" textLength="7.1" lengthAdjust="spacingAndGlyphs">1</tspan><tspan x="420.68" y="445.45" textLength="7.016" lengthAdjust="spacingAndGlyphs">5</tspan><tspan x="428.06" y="447.37" textLength="6.081" lengthAdjust="spacingAndGlyphs" font-size="16.472">*</tspan></text>
<text y="445.45" fill="#262626" font-size="13.3"><tspan x="466.31">0</tspan><tspan x="473.9" textLength="3.812" lengthAdjust="spacingAndGlyphs">.</tspan><tspan x="477.88">0</tspan><tspan x="485.76" textLength="7.139" lengthAdjust="spacingAndGlyphs">3</tspan><tspan x="493.18" textLength="7.694" lengthAdjust="spacingAndGlyphs">6</tspan></text>
<text y="445.45" fill="#262626" font-size="13.3"><tspan x="534.16" textLength="4.552" lengthAdjust="spacingAndGlyphs">-</tspan><tspan x="538.77">0</tspan><tspan x="546.36" textLength="3.812" lengthAdjust="spacingAndGlyphs">.</tspan><tspan x="550.34">0</tspan><tspan x="558.06" textLength="7.435" lengthAdjust="spacingAndGlyphs">4</tspan><tspan x="565.94" textLength="7.139" lengthAdjust="spacingAndGlyphs">3</tspan></text>
<text y="520.55" fill="#262626" font-size="13.3"><tspan x="180.37" y="520.55">0</tspan><tspan x="187.99" y="520.55" textLength="3.812" lengthAdjust="spacingAndGlyphs">.</tspan><tspan x="192.11" y="520.55" textLength="7.1" lengthAdjust="spacingAndGlyphs">1</tspan><tspan x="199.77" y="520.55">0</tspan><tspan x="207.49" y="520.55" textLength="7.514" lengthAdjust="spacingAndGlyphs">8</tspan><tspan x="215.14" y="522.47" textLength="6.081" lengthAdjust="spacingAndGlyphs" font-size="16.472">*</tspan></text>
<text y="520.55" fill="#262626" font-size="13.3"><tspan x="254.37">0</tspan><tspan x="261.95" textLength="3.812" lengthAdjust="spacingAndGlyphs">.</tspan><tspan x="265.93">0</tspan><tspan x="273.69" textLength="7.272" lengthAdjust="spacingAndGlyphs">7</tspan><tspan x="281.45" textLength="7.1" lengthAdjust="spacingAndGlyphs">1</tspan></text>
<text y="520.55" fill="#262626" font-size="13.3"><tspan x="325.38">0</tspan><tspan x="332.9" textLength="3.812" lengthAdjust="spacingAndGlyphs">.</tspan><tspan x="336.82">0</tspan><tspan x="344.43" textLength="7.165" lengthAdjust="spacingAndGlyphs">2</tspan><tspan x="352.14" textLength="7.272" lengthAdjust="spacingAndGlyphs">7</tspan></text>
<text y="520.55" fill="#262626" font-size="13.3"><tspan x="393.18" textLength="4.552" lengthAdjust="spacingAndGlyphs">-</tspan><tspan x="397.76">0</tspan><tspan x="405.33" textLength="3.812" lengthAdjust="spacingAndGlyphs">.</tspan><tspan x="409.29">0</tspan><tspan x="416.95" textLength="7.165" lengthAdjust="spacingAndGlyphs">2</tspan><tspan x="424.73" textLength="7.272" lengthAdjust="spacingAndGlyphs">7</tspan></text>
<text y="520.55" fill="#262626" font-size="13.3"><tspan x="466.43">0</tspan><tspan x="473.98" textLength="3.812" lengthAdjust="spacingAndGlyphs">.</tspan><tspan x="477.94">0</tspan><tspan x="485.58" textLength="7.514" lengthAdjust="spacingAndGlyphs">8</tspan><tspan x="493.39" textLength="7.1" lengthAdjust="spacingAndGlyphs">1</tspan></text>
<text y="520.55" fill="#262626" font-size="13.3"><tspan x="536.42">0</tspan><tspan x="543.97" textLength="3.812" lengthAdjust="spacingAndGlyphs">.</tspan><tspan x="547.93">0</tspan><tspan x="555.76" textLength="7.016" lengthAdjust="spacingAndGlyphs">5</tspan><tspan x="563.11" textLength="7.678" lengthAdjust="spacingAndGlyphs">9</tspan></text>
</svg></body></html>
